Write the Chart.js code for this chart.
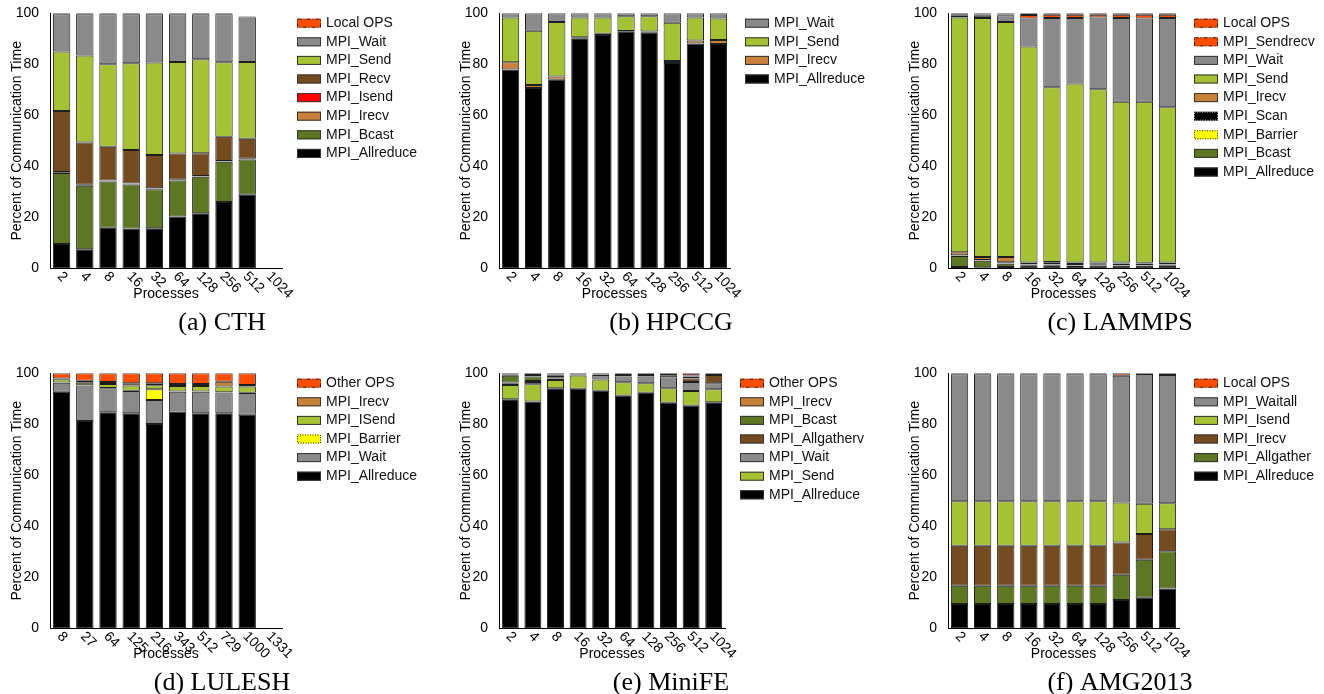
<!DOCTYPE html>
<html>
<head>
<meta charset="utf-8">
<script src="https://cdn.jsdelivr.net/npm/chart.js@4.4.0/dist/chart.umd.min.js"></script>
<style>
  html, body { margin: 0; padding: 0; background: #fff; width: 1324px; height: 694px; overflow: hidden; position: relative; }
  .panel { position: absolute; }
</style>
</head>
<body>
<div class="panel" style="left:0px;top:0px"><canvas id="cth" width="426" height="345"></canvas></div>
<div class="panel" style="left:449px;top:0px"><canvas id="hpccg" width="426" height="345"></canvas></div>
<div class="panel" style="left:898px;top:0px"><canvas id="lammps" width="426" height="345"></canvas></div>
<div class="panel" style="left:0px;top:360px"><canvas id="lulesh" width="426" height="345"></canvas></div>
<div class="panel" style="left:449px;top:360px"><canvas id="minife" width="426" height="345"></canvas></div>
<div class="panel" style="left:898px;top:360px"><canvas id="amg" width="426" height="345"></canvas></div>
<script>
// x labels
const procLabels = ["2", "4", "8", "16", "32", "64", "128", "256", "512", "1024"];
const luleshLabels = ["8", "27", "64", "125", "216", "343", "512", "729", "1000", "1331"];

// (a) CTH, bottom to top
const cthAllreduce = [9.5, 7.5, 15.9, 15.6, 15.7, 20.3, 21.6, 26.0, 28.8, 0];
const cthBcast = [27.9, 24.9, 18.1, 17.3, 15.3, 14.1, 14.3, 15.8, 13.9, 0];
const cthIrecv = [0.3, 0.3, 0.3, 0.3, 0.3, 0.2, 0.2, 0.2, 0.2, 0];
const cthIsend = [0.1, 0.1, 0.1, 0.1, 0.1, 0.1, 0.1, 0.1, 0.1, 0];
const cthRecv = [23.9, 16.5, 13.3, 13.1, 13.0, 10.3, 8.9, 9.5, 7.8, 0];
const cthSend = [23.3, 34.2, 32.3, 34.0, 36.3, 35.9, 36.9, 29.2, 30.1, 0];
const cthWait = [14.6, 16.1, 19.6, 19.2, 18.9, 18.7, 17.6, 18.8, 17.5, 0];
const cthLocal = [0.4, 0.4, 0.4, 0.4, 0.4, 0.4, 0.4, 0.4, 0.3, 0];

// (b) HPCCG
const hpAllreduce = [78.0, 70.7, 73.9, 90.2, 91.5, 92.8, 92.4, 80.5, 88.2, 88.0];
const hpIrecv = [2.8, 1.2, 1.3, 0.4, 0.5, 0.3, 0.5, 0.8, 1.1, 1.5];
const hpSend = [17.6, 21.3, 21.4, 7.8, 6.4, 5.7, 5.9, 15.0, 9.1, 8.5];
const hpWait = [1.6, 6.8, 3.4, 1.6, 1.6, 1.2, 1.2, 3.7, 1.6, 2.0];

// (c) LAMMPS
const lmAllreduce = [0.5, 0.4, 0.5, 1.2, 1.2, 0.9, 1.1, 1.0, 1.0, 1.2];
const lmBcast = [4.3, 2.6, 1.3, 0.2, 0.2, 0.2, 0.2, 0.2, 0.2, 0.2];
const lmBarrier = [0.1, 0.1, 0.1, 0.1, 0.1, 0.1, 0.1, 0.1, 0.1, 0.1];
const lmScan = [0.2, 0.2, 0.5, 0.6, 0.7, 0.5, 0.6, 0.6, 0.6, 0.6];
const lmIrecv = [1.2, 1.1, 2.0, 0.2, 0.3, 0.6, 0.3, 0.4, 0.3, 0.2];
const lmSend = [92.1, 93.8, 92.2, 84.7, 68.5, 70.2, 67.9, 63.0, 63.1, 60.9];
const lmWait = [0.6, 0.8, 2.6, 11.0, 27.2, 25.7, 28.2, 32.9, 32.7, 35.0];
const lmSendrecv = [0.4, 0.5, 0.3, 1.3, 1.2, 1.2, 1.0, 1.2, 1.4, 1.2];
const lmLocal = [0.6, 0.5, 0.5, 0.7, 0.6, 0.6, 0.6, 0.6, 0.6, 0.6];

// (d) LULESH
const luAllreduce = [92.8, 81.3, 84.7, 84.3, 80.1, 85.0, 84.3, 84.3, 83.7, 0];
const luWait = [3.5, 13.9, 9.4, 8.8, 9.4, 7.8, 8.5, 8.2, 8.6, 0];
const luBarrier = [0.1, 0.1, 0.1, 0.1, 4.2, 0.1, 0.1, 0.1, 0.1, 0];
const luISend = [1.3, 1.0, 1.6, 2.0, 1.6, 2.1, 2.1, 2.2, 2.4, 0];
const luIrecv = [0.3, 0.8, 0.8, 0.9, 0.8, 0.8, 0.8, 1.9, 0.6, 0];
const luOther = [2.0, 2.9, 3.4, 3.9, 3.9, 4.2, 4.2, 3.3, 4.6, 0];

// (e) MiniFE
const mfAllreduce = [89.8, 88.9, 94.1, 93.9, 93.2, 91.2, 92.4, 88.5, 87.3, 88.6];
const mfSend = [5.6, 6.8, 3.3, 5.2, 4.4, 5.3, 3.7, 5.6, 5.8, 5.1];
const mfWait = [0.7, 0.9, 0.6, 0.4, 1.7, 2.2, 2.6, 4.3, 3.5, 2.4];
const mfAllgatherv = [0.3, 0.4, 0.3, 0, 0, 0.6, 0.6, 0.8, 1.4, 3.2];
const mfBcast = [2.6, 1.7, 0.7, 0, 0, 0, 0, 0, 0.7, 0];
const mfIrecv = [0.5, 0.6, 0.5, 0, 0.2, 0, 0, 0, 0.4, 0];
const mfOther = [0.5, 0.7, 0.5, 0.5, 0.5, 0.7, 0.7, 0.8, 0.9, 0.7];

// (f) AMG2013
const amgAllreduce = [9.5, 9.5, 9.5, 9.5, 9.5, 9.5, 9.5, 11.1, 12.0, 15.6];
const amgAllgather = [7.2, 7.2, 7.2, 7.2, 7.2, 7.2, 7.2, 9.9, 14.9, 14.6];
const amgIrecv = [15.7, 15.7, 15.7, 15.7, 15.7, 15.7, 15.7, 12.6, 10.1, 8.6];
const amgIsend = [17.4, 17.4, 17.4, 17.4, 17.4, 17.4, 17.4, 15.7, 11.8, 10.2];
const amgWaitall = [49.8, 49.8, 49.8, 49.8, 49.8, 49.8, 49.8, 49.7, 50.9, 50.3];
const amgLocal = [0.4, 0.4, 0.4, 0.4, 0.4, 0.4, 0.4, 1.0, 0.3, 0.7];

const C = {
  ops: "#ff4d00",
  wait: "#8a8a8a",
  send: "#a7c134",
  recv: "#744c20",
  isend: "#ff0000",
  irecv: "#c9813a",
  bcast: "#5e7722",
  allreduce: "#000000",
  barrier: "#ffff00",
};

const SANS = '"Liberation Sans", Arial, Helvetica, sans-serif';

const panelDecor = {
  id: "panelDecor",
  afterDraw(chart, args, opts) {
    const ctx = chart.ctx;
    const area = chart.chartArea;
    const xs = chart.scales.x;
    ctx.save();
    ctx.fillStyle = "#000";
    ctx.font = "14px " + SANS;

    // rotated process counts
    chart.data.labels.forEach((lab, i) => {
      const px = xs.getPixelForValue(i);
      ctx.save();
      ctx.translate(px - 2, area.bottom + 6);
      ctx.rotate(Math.PI / 4);
      ctx.textAlign = "left";
      ctx.textBaseline = "middle";
      ctx.fillText(lab, 0, 0);
      ctx.restore();
    });

    // legend, top of stack first
    const ds = chart.data.datasets;
    let row = 0;
    for (let k = ds.length - 1; k >= 0; k--) {
      const d = ds[k];
      const bx = area.right + 15;
      const cy = 23.2 + row * 18.6;
      ctx.fillStyle = d.backgroundColor;
      ctx.fillRect(bx, cy - 4.5, 24, 9);
      ctx.lineWidth = 1;
      if (d.edge == "dashdot") {
        ctx.setLineDash([4, 2, 1, 2]);
        ctx.strokeStyle = "#222";
      } else if (d.edge == "dotted") {
        ctx.setLineDash([1, 1.5]);
        ctx.strokeStyle = "#222";
      } else if (d.edge == "lightdot") {
        ctx.setLineDash([1, 1.5]);
        ctx.strokeStyle = "#bbb";
      } else {
        ctx.setLineDash([]);
        ctx.strokeStyle = "#333";
      }
      ctx.strokeRect(bx + 0.5, cy - 4.5 + 0.5, 23, 8);
      ctx.setLineDash([]);
      ctx.fillStyle = "#111";
      ctx.textAlign = "left";
      ctx.textBaseline = "middle";
      ctx.fillText(d.label, bx + 29, cy);
      row++;
    }

    // sub-caption
    ctx.fillStyle = "#000";
    ctx.font = '26px "Liberation Serif", "Times New Roman", serif';
    ctx.textAlign = "center";
    ctx.textBaseline = "alphabetic";
    ctx.fillText(opts.caption, 222, 330);
    ctx.restore();
  },
};

function drawPanel(id, labels, series, caption, plotRight) {
  const canvas = document.getElementById(id);
  const W = canvas.width;
  new Chart(canvas.getContext("2d"), {
    type: "bar",
    data: {
      labels: labels,
      datasets: series.map((s) => ({
        label: s.name,
        data: s.data,
        backgroundColor: s.color,
        edge: s.edge || "solid",
        borderColor: "#1e1e1e",
        borderWidth: 1,
        borderSkipped: false,
        barPercentage: 0.75,
        categoryPercentage: 1.0,
      })),
    },
    options: {
      responsive: false,
      animation: false,
      events: [],
      layout: {
        padding: { left: 0, top: 13.3, right: W - plotRight, bottom: 345 - 268.3 - 34 },
      },
      plugins: {
        legend: { display: false },
        tooltip: { enabled: false },
        panelDecor: { caption: caption },
      },
      scales: {
        x: {
          stacked: true,
          grid: { display: false },
          border: { display: true, color: "#000", width: 1 },
          ticks: { display: false },
          title: {
            display: true,
            text: "Processes",
            color: "#000",
            font: { family: SANS, size: 14 },
            padding: 0,
          },
          afterFit: (s) => {
            s.height = 34;
          },
        },
        y: {
          stacked: true,
          min: 0,
          max: 100,
          grid: { display: false },
          border: { display: true, color: "#000", width: 1 },
          ticks: {
            stepSize: 20,
            color: "#000",
            padding: 3,
            font: { family: SANS, size: 14 },
          },
          title: {
            display: true,
            text: "Percent of Communication Time",
            color: "#000",
            font: { family: SANS, size: 14 },
            padding: { top: 8.3, bottom: 0 },
          },
          afterFit: (s) => {
            s.width = 50;
          },
        },
      },
    },
    plugins: [panelDecor],
  });
}

drawPanel("cth", procLabels, [
  { name: "MPI_Allreduce", data: cthAllreduce, color: C.allreduce },
  { name: "MPI_Bcast", data: cthBcast, color: C.bcast },
  { name: "MPI_Irecv", data: cthIrecv, color: C.irecv },
  { name: "MPI_Isend", data: cthIsend, color: C.isend },
  { name: "MPI_Recv", data: cthRecv, color: C.recv },
  { name: "MPI_Send", data: cthSend, color: C.send },
  { name: "MPI_Wait", data: cthWait, color: C.wait },
  { name: "Local OPS", data: cthLocal, color: C.ops, edge: "dashdot" },
], "(a) CTH", 282);

drawPanel("hpccg", procLabels, [
  { name: "MPI_Allreduce", data: hpAllreduce, color: C.allreduce },
  { name: "MPI_Irecv", data: hpIrecv, color: C.irecv },
  { name: "MPI_Send", data: hpSend, color: C.send },
  { name: "MPI_Wait", data: hpWait, color: C.wait },
], "(b) HPCCG", 281);

drawPanel("lammps", procLabels, [
  { name: "MPI_Allreduce", data: lmAllreduce, color: C.allreduce },
  { name: "MPI_Bcast", data: lmBcast, color: C.bcast },
  { name: "MPI_Barrier", data: lmBarrier, color: C.barrier, edge: "dotted" },
  { name: "MPI_Scan", data: lmScan, color: "#000000", edge: "lightdot" },
  { name: "MPI_Irecv", data: lmIrecv, color: C.irecv },
  { name: "MPI_Send", data: lmSend, color: C.send },
  { name: "MPI_Wait", data: lmWait, color: C.wait },
  { name: "MPI_Sendrecv", data: lmSendrecv, color: C.ops, edge: "dashdot" },
  { name: "Local OPS", data: lmLocal, color: C.ops, edge: "dashdot" },
], "(c) LAMMPS", 281);

drawPanel("lulesh", luleshLabels, [
  { name: "MPI_Allreduce", data: luAllreduce, color: C.allreduce },
  { name: "MPI_Wait", data: luWait, color: C.wait },
  { name: "MPI_Barrier", data: luBarrier, color: C.barrier, edge: "dotted" },
  { name: "MPI_ISend", data: luISend, color: C.send },
  { name: "MPI_Irecv", data: luIrecv, color: C.irecv },
  { name: "Other OPS", data: luOther, color: C.ops, edge: "dashdot" },
], "(d) LULESH", 282);

drawPanel("minife", procLabels, [
  { name: "MPI_Allreduce", data: mfAllreduce, color: C.allreduce },
  { name: "MPI_Send", data: mfSend, color: C.send },
  { name: "MPI_Wait", data: mfWait, color: C.wait },
  { name: "MPI_Allgatherv", data: mfAllgatherv, color: C.recv },
  { name: "MPI_Bcast", data: mfBcast, color: C.bcast },
  { name: "MPI_Irecv", data: mfIrecv, color: C.irecv },
  { name: "Other OPS", data: mfOther, color: C.ops, edge: "dashdot" },
], "(e) MiniFE", 276);

drawPanel("amg", procLabels, [
  { name: "MPI_Allreduce", data: amgAllreduce, color: C.allreduce },
  { name: "MPI_Allgather", data: amgAllgather, color: C.bcast },
  { name: "MPI_Irecv", data: amgIrecv, color: C.recv },
  { name: "MPI_Isend", data: amgIsend, color: C.send },
  { name: "MPI_Waitall", data: amgWaitall, color: C.wait },
  { name: "Local OPS", data: amgLocal, color: C.ops, edge: "dashdot" },
], "(f) AMG2013", 281);
</script>
</body>
</html>
